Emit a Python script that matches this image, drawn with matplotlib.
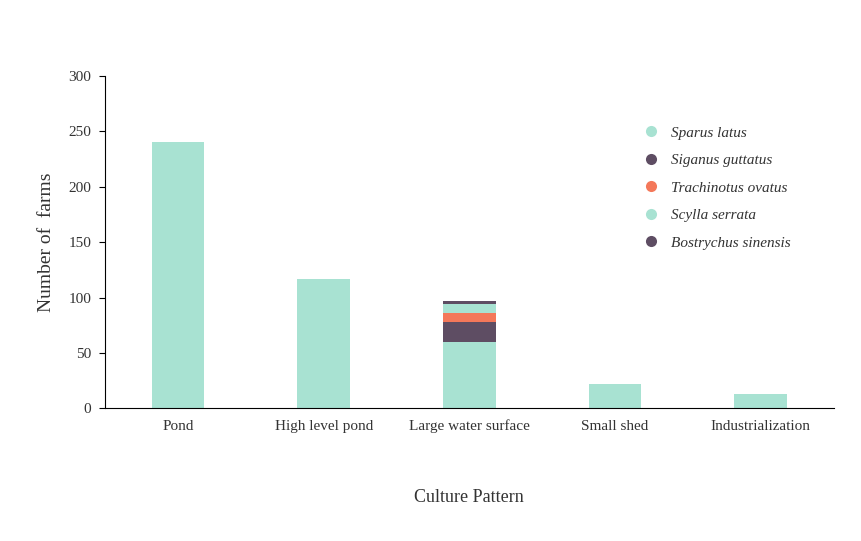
import matplotlib
matplotlib.use("Agg")
import matplotlib.pyplot as plt
from matplotlib.lines import Line2D
import numpy as np

categories = ["Pond", "High level pond", "Large water surface", "Small shed", "Industrialization"]
species = ["Sparus latus", "Siganus guttatus", "Trachinotus ovatus", "Scylla serrata", "Bostrychus sinensis"]
values = {
    "Sparus latus":        [240, 117, 60, 22, 13],
    "Siganus guttatus":    [0, 0, 18, 0, 0],
    "Trachinotus ovatus":  [0, 0, 8, 0, 0],
    "Scylla serrata":      [0, 0, 8, 0, 0],
    "Bostrychus sinensis": [0, 0, 3, 0, 0],
}
colors = ["#a8e2d2", "#5e4d63", "#f4785a", "#a8e2d2", "#5e4d63"]

plt.rcParams['font.family'] = ['Liberation Serif', 'DejaVu Serif']
fig = plt.figure(figsize=(8.62, 5.41), dpi=100)
ax = fig.add_axes([0.122, 0.245, 0.845, 0.615])
x = np.arange(len(categories))
bottom = np.zeros(len(categories))
for sp, c in zip(species, colors):
    v = np.array(values[sp], dtype=float)
    ax.bar(x, v, bottom=bottom, width=0.36, color=c, edgecolor="none")
    bottom += v

ax.set_ylim(0, 300)
ax.set_xlim(-0.5, 4.5)
ax.set_yticks(range(0, 301, 50))
ax.set_xticks(x)
ax.set_xticklabels(categories, fontsize=11, color="#333333")
ax.tick_params(axis='y', labelsize=11, direction='out', length=4, pad=6, labelcolor="#333333")
ax.tick_params(axis='x', length=0, pad=8)
for s in ["top", "right"]:
    ax.spines[s].set_visible(False)
ax.set_ylabel("Number of  farms", fontsize=14, labelpad=10, color="#333333")
ax.set_xlabel("Culture Pattern", fontsize=13, labelpad=40, color="#333333")

handles = [Line2D([], [], marker='o', linestyle='none', markersize=8,
                  markerfacecolor=c, markeredgecolor='none') for c in colors]
leg = ax.legend(handles, species, loc='upper left', bbox_to_anchor=(0.71, 0.89),
                frameon=False, prop={'style': 'italic', 'size': 11}, labelspacing=0.9,
                handletextpad=0.3, labelcolor="#333333")
fig.savefig("out.png", dpi=100)
